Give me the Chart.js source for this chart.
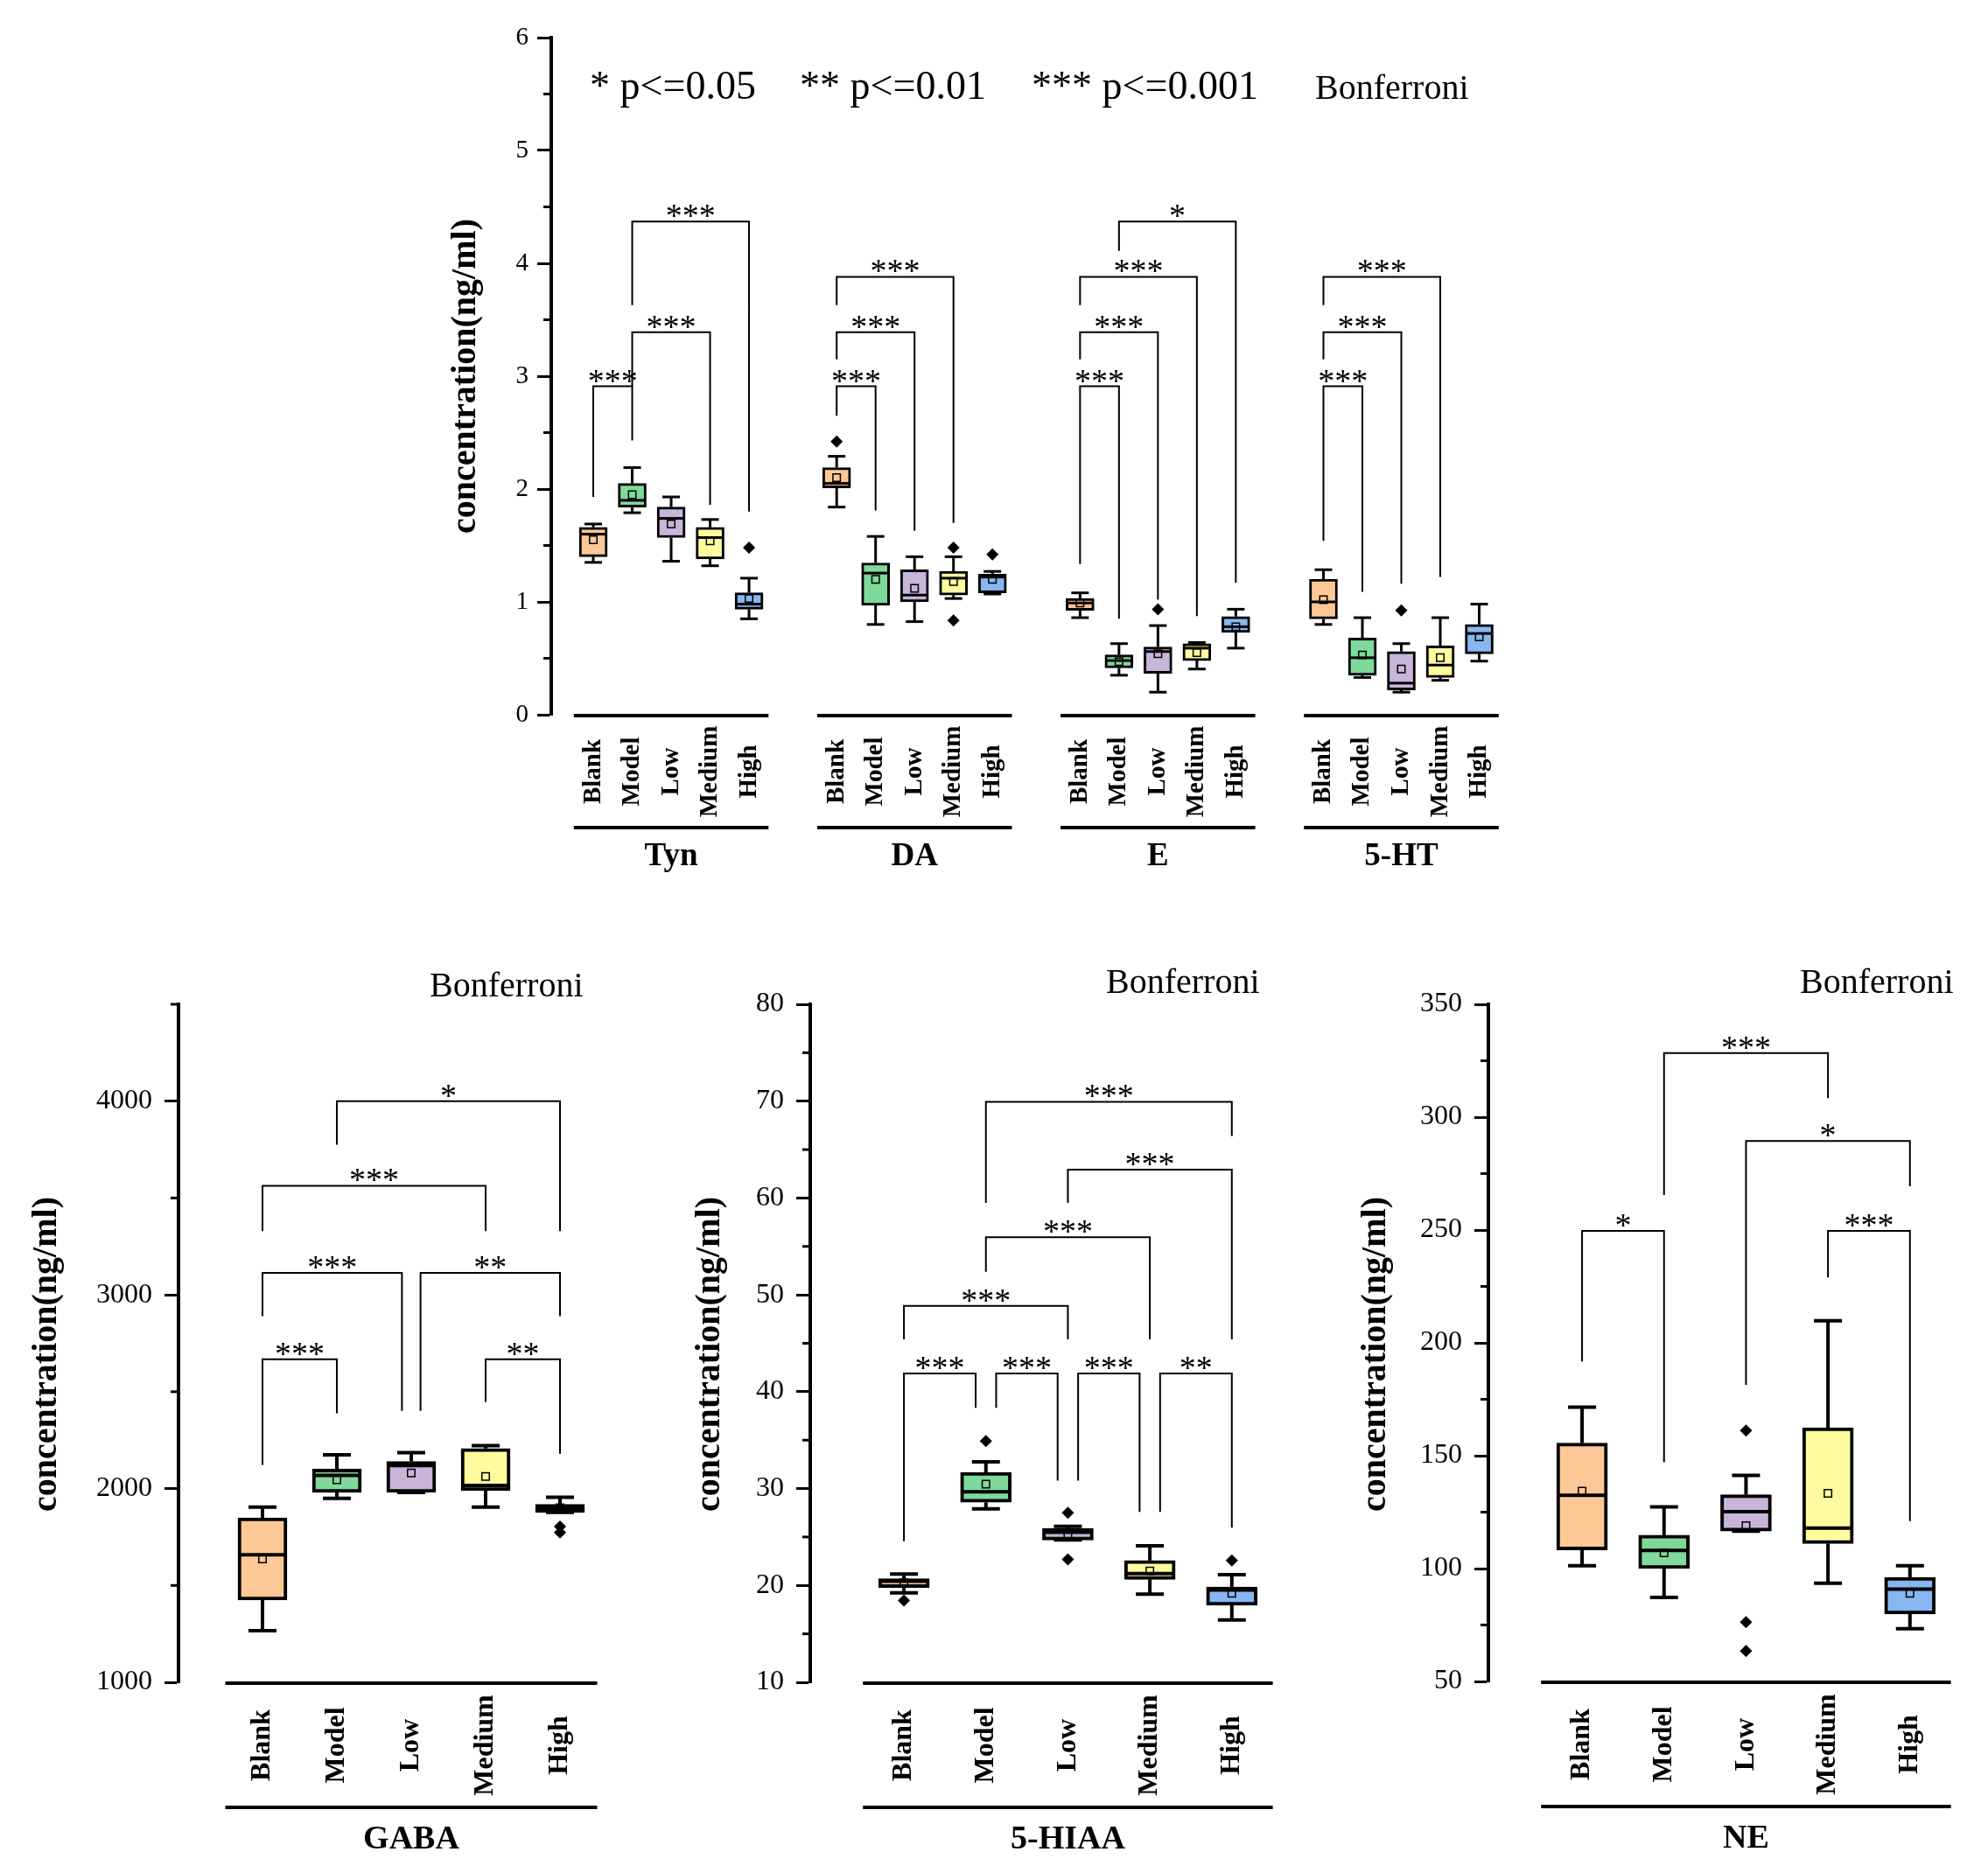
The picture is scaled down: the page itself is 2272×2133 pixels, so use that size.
<!DOCTYPE html>
<html>
<head>
<meta charset="utf-8">
<script src="https://cdn.jsdelivr.net/npm/chart.js@4.4.1/dist/chart.umd.min.js"></script>
<style>
    html, body { margin: 0; padding: 0; background: #fff; }
    body { width: 2272px; height: 2133px; position: relative; overflow: hidden; }
    canvas { position: absolute; left: 0; top: 0; }
</style>
</head>
<body>
<canvas id="topChart" width="2272" height="2133"></canvas>
<canvas id="gabaChart" width="2272" height="2133"></canvas>
<canvas id="hiaaChart" width="2272" height="2133"></canvas>
<canvas id="neChart" width="2272" height="2133"></canvas>
<script>
// groups and colours
const groupNames = ['Blank', 'Model', 'Low', 'Medium', 'High'];
const boxColors = ['#FDC896', '#7FD99B', '#C8B5D9', '#FFFB9E', '#87B7F2'];
const pLegend = ['* p<=0.05', '** p<=0.01', '*** p<=0.001'];
const methodName = 'Bonferroni';
const yTitle = 'concentration(ng/ml)';

// each box: [whisker low, Q1, median, Q3, whisker high, mean]
const topAnalytes = ['Tyn', 'DA', 'E', '5-HT'];
const topYTicks = [0, 1, 2, 3, 4, 5, 6];

const tynStats = [[1.35, 1.40, 1.60, 1.66, 1.69, 1.55], [1.79, 1.84, 1.90, 2.05, 2.19, 1.95], [1.36, 1.57, 1.74, 1.84, 1.93, 1.69], [1.32, 1.38, 1.57, 1.66, 1.73, 1.54], [0.85, 0.935, 0.98, 1.08, 1.21, 1.03]];
const tynOutliers = [[], [], [], [], [1.48]];
const tynBrackets = [[0, 1, 2.91, 1.93, 2.43, '***'], [1, 3, 3.39, 2.91, 1.86, '***'], [1, 4, 4.37, 3.63, 1.80, '***']];

const daStats = [[1.84, 2.01, 2.05, 2.19, 2.29, 2.10], [0.80, 0.97, 1.255, 1.345, 1.58, 1.20], [0.825, 1.00, 1.06, 1.285, 1.40, 1.12], [1.03, 1.06, 1.21, 1.27, 1.40, 1.18], [1.07, 1.08, 1.22, 1.245, 1.27, 1.20]];
const daOutliers = [[2.42], [], [], [1.48, 0.835], [1.42]];
const daBrackets = [[0, 1, 2.91, 2.65, 1.81, '***'], [0, 2, 3.39, 3.15, 1.63, '***'], [0, 3, 3.88, 3.63, 1.70, '***']];

const eStats = [[0.86, 0.925, 0.99, 1.03, 1.08, 0.99], [0.35, 0.415, 0.48, 0.53, 0.63, 0.47], [0.20, 0.366, 0.56, 0.60, 0.79, 0.54], [0.405, 0.48, 0.59, 0.63, 0.64, 0.55], [0.59, 0.73, 0.78, 0.87, 0.935, 0.78]];
const eOutliers = [[], [], [0.935], [], []];
const eBrackets = [[0, 1, 2.91, 1.335, 0.85, '***'], [0, 2, 3.39, 3.15, 1.02, '***'], [0, 3, 3.88, 3.63, 0.875, '***'], [1, 4, 4.37, 4.11, 1.17, '*']];

const htStats = [[0.80, 0.85, 1.00, 1.20, 1.285, 1.02], [0.33, 0.35, 0.505, 0.68, 0.86, 0.53], [0.20, 0.22, 0.28, 0.56, 0.63, 0.405], [0.305, 0.33, 0.44, 0.61, 0.86, 0.505], [0.475, 0.54, 0.72, 0.80, 0.98, 0.69]];
const htOutliers = [[], [], [0.925], [], []];
const htBrackets = [[0, 1, 2.91, 1.54, 1.09, '***'], [0, 2, 3.39, 3.15, 1.16, '***'], [0, 3, 3.88, 3.63, 1.22, '***']];

const gabaYTicks = [1000, 2000, 3000, 4000];
const gabaStats = [[1267, 1425, 1658, 1849, 1904, 1637], [1949, 1980, 2068, 2101, 2174, 2046], [1980, 1980, 2119, 2140, 2186, 2080], [1904, 1989, 2016, 2207, 2222, 2062], [1877, 1877, 1895, 1919, 1955, 1901]];
const gabaOutliers = [[], [], [], [], [1804, 1773]];
const gabaBrackets = [[0, 1, 2668, 2122, 2389, '***'], [0, 2, 3114, 2890, 2401, '***'], [2, 4, 3114, 2401, 2890, '**'], [0, 3, 3563, 3329, 3329, '***'], [3, 4, 2668, 2447, 2180, '**'], [1, 4, 4000, 3775, 3329, '*']];

const hiaaYTicks = [10, 20, 30, 40, 50, 60, 70, 80];
const hiaaStats = [[19.23, 19.78, 20.44, 20.69, 21.17, 20.3], [27.9, 28.58, 29.67, 31.68, 32.77, 30.46], [24.69, 24.69, 25.48, 25.9, 26.09, 25.3], [19.1, 20.63, 21.23, 22.57, 24.09, 21.5], [16.44, 17.95, 19.53, 19.84, 21.1, 19.2]];
const hiaaOutliers = [[18.44], [34.9], [27.49, 22.69], [], [22.57]];
const hiaaBrackets = [[0, 1, 41.88, 24.57, 38.35, '***'], [1, 2, 41.88, 38.35, 30.83, '***'], [2, 3, 41.88, 30.83, 27.6, '***'], [3, 4, 41.88, 27.6, 25.97, '**'], [0, 2, 48.86, 45.4, 45.4, '***'], [1, 3, 55.96, 52.38, 45.4, '***'], [2, 4, 62.94, 59.5, 45.4, '***'], [1, 4, 69.93, 59.5, 66.4, '***']];

const neYTicks = [50, 100, 150, 200, 250, 300, 350];
const neStats = [[101.3, 108.3, 132.5, 155.6, 171.5, 134.3], [87.2, 100, 108, 114.8, 127.3, 107], [116.6, 116.6, 125.2, 132.7, 141.3, 119], [93.5, 111.1, 117.9, 162.4, 209.8, 133.3], [73.4, 79.9, 90.9, 96.1, 101.3, 89]];
const neOutliers = [[], [], [161.1, 76.3, 63.5], [], []];
const neBrackets = [[0, 1, 249.6, 191.8, 147.1, '*'], [1, 3, 328.4, 265.5, 308.4, '***'], [2, 4, 289.4, 181.4, 269.4, '*'], [3, 4, 249.6, 229, 121, '***']];

const FONT = "'Liberation Serif', 'Times New Roman', serif";
const PAGE_W = 2272, PAGE_H = 2133, AXIS_W = 100;

// legs shared by two brackets on the same level are nudged apart
const legShift = (brackets, offset) => brackets.map(b => {
    const dl = brackets.some(o => o !== b && o[2] === b[2] && o[1] === b[0]) ? 0.125 : 0;
    const dr = brackets.some(o => o !== b && o[2] === b[2] && o[0] === b[1]) ? -0.125 : 0;
    return { i: b[0] + offset, j: b[1] + offset, bar: b[2], le: b[3], re: b[4], label: b[5], dl, dr };
});

const line = (ctx, x1, y1, x2, y2) => { ctx.beginPath(); ctx.moveTo(x1, y1); ctx.lineTo(x2, y2); ctx.stroke(); };

function makeBoxChart(id, spec) {
    const boxes = spec.stats.map((s, k) => ({ x: spec.pos[k], y: [s[1], s[3]] }));
    const means = spec.stats.map((s, k) => ({ x: spec.pos[k], y: s[5] }));
    const outs = [];
    spec.outliers.forEach((list, k) => list.forEach(v => outs.push({ x: spec.pos[k], y: v })));
    const colors = spec.stats.map((s, k) => boxColors[k % 5]);

    const extras = {
        id: 'boxExtras',
        beforeDatasetsDraw(chart) {
            const { ctx, scales: { x: xs, y: ys } } = chart;
            ctx.save();
            ctx.strokeStyle = '#000';
            ctx.lineWidth = spec.lw;
            spec.stats.forEach((s, k) => {
                const cx = xs.getPixelForValue(spec.pos[k]);
                const lo = ys.getPixelForValue(s[0]), q1 = ys.getPixelForValue(s[1]);
                const q3 = ys.getPixelForValue(s[3]), hi = ys.getPixelForValue(s[4]);
                line(ctx, cx, q3, cx, hi);
                line(ctx, cx, q1, cx, lo);
                line(ctx, cx - spec.capW / 2, hi, cx + spec.capW / 2, hi);
                line(ctx, cx - spec.capW / 2, lo, cx + spec.capW / 2, lo);
            });
            ctx.restore();
        },
        afterDatasetDraw(chart, args) {
            if (args.index !== 0) return;
            const { ctx, scales: { x: xs, y: ys } } = chart;
            ctx.save();
            ctx.strokeStyle = '#000';
            ctx.lineWidth = spec.lw;
            spec.stats.forEach((s, k) => {
                const cx = xs.getPixelForValue(spec.pos[k]);
                const m = ys.getPixelForValue(s[2]);
                line(ctx, cx - spec.boxW / 2 + 1, m, cx + spec.boxW / 2 - 1, m);
            });
            ctx.restore();
        },
        afterDraw(chart) {
            const { ctx, chartArea: a, scales: { x: xs, y: ys } } = chart;
            ctx.save();
            ctx.strokeStyle = '#000';
            ctx.fillStyle = '#000';

            // minor ticks
            ctx.lineWidth = 3;
            for (let v = spec.yMin; v <= spec.yMax + 1e-9; v += spec.yMinor) {
                if (spec.yTicks.some(t => Math.abs(t - v) < 1e-9)) continue;
                const y = ys.getPixelForValue(v);
                line(ctx, a.left - 9, y, a.left, y);
            }

            // group rules, group names and category labels
            spec.groups.forEach(g => {
                const x1 = xs.getPixelForValue(spec.pos[g.from] - 0.5);
                const x2 = xs.getPixelForValue(spec.pos[g.from + 4] + 0.5);
                ctx.lineWidth = 4;
                line(ctx, x1, a.bottom + 1, x2, a.bottom + 1);
                line(ctx, x1, a.bottom + spec.rule2, x2, a.bottom + spec.rule2);
                ctx.font = `bold ${spec.nameSize}px ${FONT}`;
                ctx.textAlign = 'center';
                ctx.textBaseline = 'alphabetic';
                ctx.fillText(g.name, (x1 + x2) / 2, a.bottom + spec.nameY);
            });
            ctx.font = `bold ${spec.labelSize}px ${FONT}`;
            spec.pos.forEach((p, k) => {
                ctx.save();
                ctx.translate(xs.getPixelForValue(p), a.bottom + spec.labelY);
                ctx.rotate(-Math.PI / 2);
                ctx.textAlign = 'center';
                ctx.textBaseline = 'middle';
                ctx.fillText(groupNames[k % 5], 0, 0);
                ctx.restore();
            });

            // significance brackets
            ctx.lineWidth = 2;
            ctx.font = `38px ${FONT}`;
            ctx.textAlign = 'center';
            ctx.textBaseline = 'alphabetic';
            spec.brackets.forEach(b => {
                const xl = xs.getPixelForValue(spec.pos[b.i] + b.dl);
                const xr = xs.getPixelForValue(spec.pos[b.j] + b.dr);
                const yb = ys.getPixelForValue(b.bar);
                ctx.beginPath();
                ctx.moveTo(xl, ys.getPixelForValue(b.le));
                ctx.lineTo(xl, yb);
                ctx.lineTo(xr, yb);
                ctx.lineTo(xr, ys.getPixelForValue(b.re));
                ctx.stroke();
                ctx.fillText(b.label, (xl + xr) / 2, yb + 6);
            });

            // axis title
            ctx.save();
            ctx.translate(spec.titleX, spec.titleY);
            ctx.rotate(-Math.PI / 2);
            ctx.font = `bold 40px ${FONT}`;
            ctx.textAlign = 'center';
            ctx.textBaseline = 'middle';
            ctx.fillText(yTitle, 0, 0);
            ctx.restore();

            // notes (p thresholds, method)
            ctx.textAlign = 'left';
            ctx.textBaseline = 'alphabetic';
            spec.notes.forEach(n => {
                ctx.font = `${n.size}px ${FONT}`;
                ctx.fillText(n.text, n.x, n.y);
            });
            ctx.restore();
        }
    };

    return new Chart(document.getElementById(id), {
        type: 'bar',
        data: {
            datasets: [
                { type: 'bar', data: boxes, backgroundColor: colors, borderColor: '#000', borderWidth: spec.lw, borderSkipped: false, barThickness: spec.boxW, order: 2 },
                { type: 'scatter', data: outs, pointStyle: 'rectRot', radius: 7, backgroundColor: '#000', borderColor: '#000', borderWidth: 0, order: 1 },
                { type: 'scatter', data: means, pointStyle: 'rect', radius: 6, backgroundColor: 'rgba(0,0,0,0)', borderColor: '#000', borderWidth: 1.5, order: 0 }
            ]
        },
        options: {
            responsive: false,
            devicePixelRatio: 1,
            animation: false,
            events: [],
            layout: { padding: { left: spec.area.left - AXIS_W, top: spec.area.top, right: PAGE_W - spec.area.right, bottom: PAGE_H - spec.area.bottom } },
            plugins: { legend: { display: false }, tooltip: { enabled: false } },
            scales: {
                x: { type: 'linear', min: spec.xMin, max: spec.xMax, offset: false, grid: { offset: false }, display: false },
                y: {
                    type: 'linear', min: spec.yMin, max: spec.yMax,
                    afterBuildTicks: s => { s.ticks = spec.yTicks.map(v => ({ value: v })); },
                    afterFit: s => { s.width = AXIS_W; },
                    ticks: { color: '#000', padding: spec.tickPad, font: { family: FONT, size: spec.tickSize }, callback: v => String(v) },
                    grid: { drawOnChartArea: false, drawTicks: true, tickLength: 16, tickWidth: 3, tickColor: '#000' },
                    border: { display: true, width: 4, color: '#000' }
                }
            }
        },
        plugins: [extras]
    });
}

// top panel: four analytes side by side
const TOP_PITCH = 6.25;
const topStatsAll = [tynStats, daStats, eStats, htStats];
const topOutAll = [tynOutliers, daOutliers, eOutliers, htOutliers];
const topBrAll = [tynBrackets, daBrackets, eBrackets, htBrackets];
const topPos = [];
topAnalytes.forEach((a, g) => groupNames.forEach((n, i) => topPos.push(g * TOP_PITCH + i)));

makeBoxChart('topChart', {
    stats: topStatsAll.flat(), outliers: topOutAll.flat(), pos: topPos,
    brackets: topBrAll.flatMap((b, g) => legShift(b, g * 5)),
    groups: topAnalytes.map((name, g) => ({ name, from: g * 5 })),
    area: { left: 630, right: 1715, top: 43, bottom: 817 },
    xMin: -1.079, xMax: 23.3, yMin: 0, yMax: 6, yTicks: topYTicks, yMinor: 0.5,
    boxW: 32, capW: 20, lw: 3, tickSize: 29, tickPad: 10,
    labelSize: 29, labelY: 65, rule2: 129, nameSize: 37, nameY: 172,
    titleX: 533, titleY: 430,
    notes: [
        { text: pLegend[0], x: 674, y: 113, size: 46 },
        { text: pLegend[1], x: 914, y: 113, size: 46 },
        { text: pLegend[2], x: 1179, y: 113, size: 46 },
        { text: methodName, x: 1503, y: 113, size: 40 }
    ]
});

const bottomCommon = {
    pos: [0, 1, 2, 3, 4], capW: 32, lw: 4, tickSize: 32, tickPad: 14,
    labelSize: 32, labelY: 72, rule2: 143, nameSize: 38, nameY: 190, titleY: 1548
};

makeBoxChart('gabaChart', Object.assign({}, bottomCommon, {
    stats: gabaStats, outliers: gabaOutliers, brackets: legShift(gabaBrackets, 0),
    groups: [{ name: 'GABA', from: 0 }],
    area: { left: 204, right: 691, top: 1148, bottom: 1923 },
    xMin: -1.129, xMax: 4.6, yMin: 1000, yMax: 4500, yTicks: gabaYTicks, yMinor: 500,
    boxW: 56, titleX: 54,
    notes: [{ text: methodName, x: 491, y: 1139, size: 40 }]
}));

makeBoxChart('hiaaChart', Object.assign({}, bottomCommon, {
    stats: hiaaStats, outliers: hiaaOutliers, brackets: legShift(hiaaBrackets, 0),
    groups: [{ name: '5-HIAA', from: 0 }],
    area: { left: 926, right: 1464, top: 1148, bottom: 1923 },
    xMin: -1.143, xMax: 4.6, yMin: 10, yMax: 80, yTicks: hiaaYTicks, yMinor: 5,
    boxW: 58, titleX: 812,
    notes: [{ text: methodName, x: 1264, y: 1135, size: 40 }]
}));

makeBoxChart('neChart', Object.assign({}, bottomCommon, {
    stats: neStats, outliers: neOutliers, brackets: legShift(neBrackets, 0),
    groups: [{ name: 'NE', from: 0 }],
    area: { left: 1701, right: 2239, top: 1148, bottom: 1922 },
    xMin: -1.143, xMax: 4.6, yMin: 50, yMax: 350, yTicks: neYTicks, yMinor: 25,
    boxW: 58, titleX: 1573,
    notes: [{ text: methodName, x: 2057, y: 1135, size: 40 }]
}));
</script>
</body>
</html>
